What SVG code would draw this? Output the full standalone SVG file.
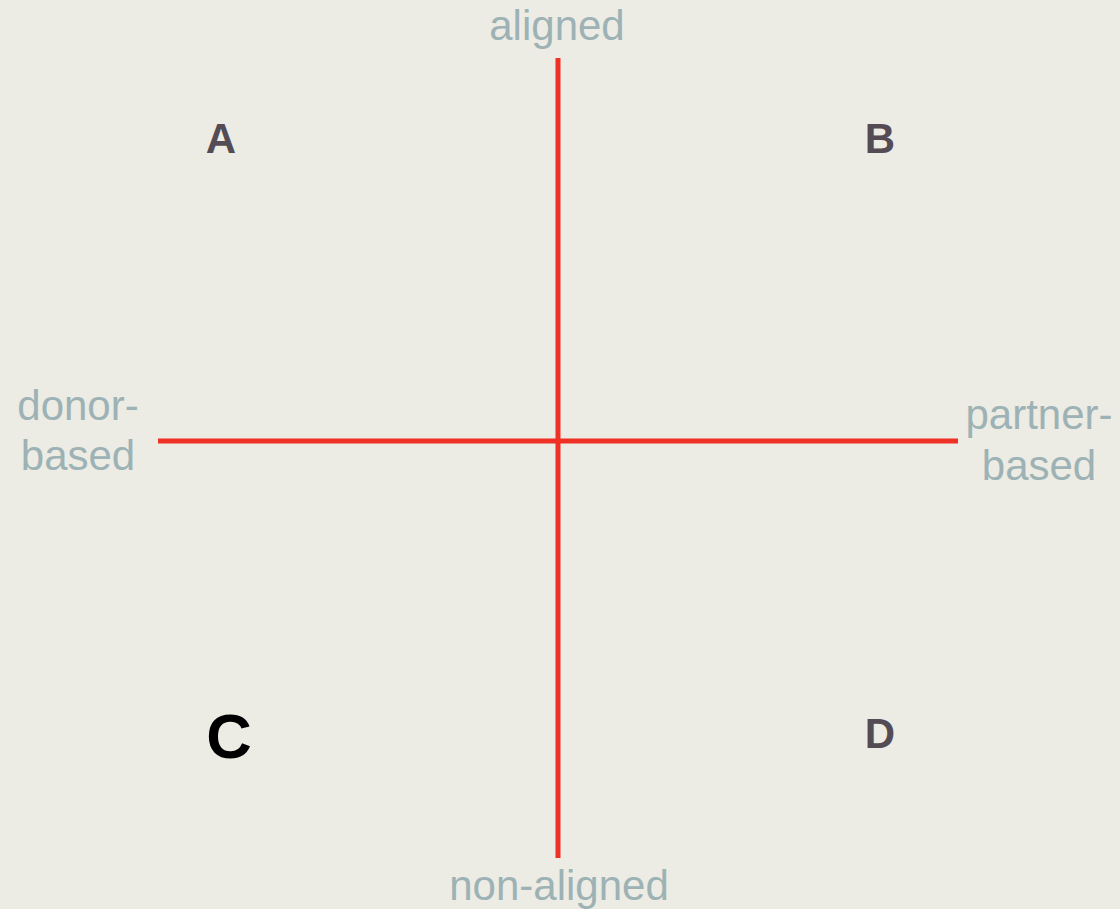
<svg xmlns="http://www.w3.org/2000/svg" width="1120" height="909" viewBox="0 0 1120 909">
<style>
.axis{font-family:"Liberation Sans",Arial,sans-serif;font-size:42px;fill:#9DB2B5;text-anchor:middle}
.q{font-family:"Liberation Sans",Arial,sans-serif;font-weight:bold;fill:#544C55;text-anchor:middle}
.ln{stroke:#EE3124;stroke-width:5;fill:none}
</style>
<rect width="1120" height="909" fill="#ECEBE4"/>
<g id="connectors">
<line class="ln" x1="558" y1="58" x2="558" y2="858"/>
<line class="ln" x1="158" y1="441" x2="958" y2="441"/>
</g>
<g id="aligned"><text class="axis" x="557" y="40">aligned</text></g>
<g id="non-aligned"><text class="axis" x="559" y="900">non-aligned</text></g>
<g id="donor-based"><text class="axis" x="78" y="420">donor-</text><text class="axis" x="78" y="470">based</text></g>
<g id="partner-based"><text class="axis" x="1039" y="429">partner-</text><text class="axis" x="1039" y="480">based</text></g>
<g id="A"><text class="q" x="221" y="153" font-size="42">A</text></g>
<g id="B"><text class="q" x="880" y="153" font-size="42">B</text></g>
<g id="C"><text class="q" x="229" y="758" font-size="63" style="fill:#000">C</text></g>
<g id="D"><text class="q" x="880" y="748" font-size="42">D</text></g>
</svg>
